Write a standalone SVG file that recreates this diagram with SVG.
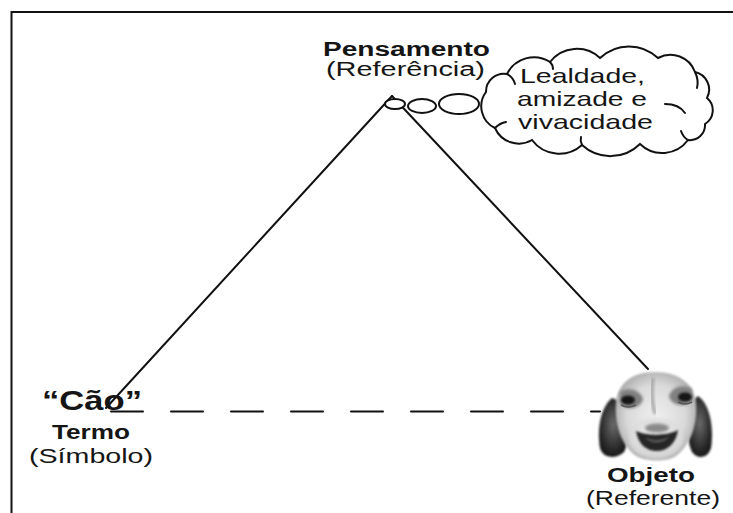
<svg xmlns="http://www.w3.org/2000/svg" width="733" height="513" viewBox="0 0 733 513">
  <style>
    .t { font-family: "Liberation Sans", Arial, sans-serif; fill: #151515; }
    .b { font-weight: bold; }
    .ln { stroke: #111; stroke-width: 2; fill: none; stroke-linecap: round; }
    .bub { stroke: #111; stroke-width: 2; fill: #fff; }
  </style>
  <defs>
    <radialGradient id="headG" cx="0.5" cy="0.5" r="0.55">
      <stop offset="0" stop-color="#efefef"/>
      <stop offset="0.65" stop-color="#dadada"/>
      <stop offset="1" stop-color="#ababab"/>
    </radialGradient>
    <radialGradient id="earG" cx="0.5" cy="0.45" r="0.6">
      <stop offset="0" stop-color="#6a6a6a"/>
      <stop offset="0.6" stop-color="#333"/>
      <stop offset="1" stop-color="#141414"/>
    </radialGradient>
    <radialGradient id="muzG" cx="0.5" cy="0.4" r="0.6">
      <stop offset="0" stop-color="#f4f4f4"/>
      <stop offset="1" stop-color="#d2d2d2"/>
    </radialGradient>
    <filter id="soft" x="-30%" y="-30%" width="160%" height="160%">
      <feGaussianBlur stdDeviation="1.6"/>
    </filter>
    <filter id="soft2" x="-20%" y="-20%" width="140%" height="140%">
      <feGaussianBlur stdDeviation="0.8"/>
    </filter>
  </defs>
  <rect width="733" height="513" fill="#fff"/>

  <g id="frame">
    <path class="ln" d="M11.5 513 V12 H733" stroke-linecap="butt"/>
  </g>

  <g id="connectors">
    <line class="ln" x1="392" y1="96" x2="106" y2="408"/>
    <line class="ln" x1="392" y1="96" x2="648" y2="369"/>
    <line class="ln" x1="111" y1="411.5" x2="600" y2="411.5" stroke-dasharray="32 28" stroke-linecap="butt"/>
  </g>

  <g id="node-pensamento">
    <text class="t b" x="323" y="56" font-size="20" textLength="167" lengthAdjust="spacingAndGlyphs">Pensamento</text>
    <text class="t" x="326" y="76" font-size="20" textLength="159" lengthAdjust="spacingAndGlyphs">(Referência)</text>
  </g>

  <g id="thought-bubbles">
    <ellipse class="bub" cx="395" cy="104" rx="10" ry="5" fill="none"/>
    <ellipse class="bub" cx="422" cy="106" rx="14" ry="7"/>
    <ellipse class="bub" cx="459" cy="104" rx="20" ry="10"/>
  </g>

  <g id="node-cloud">
    <path class="ln" fill="#fff" d="M486 92 A18 18 0 0 1 507 74 A30 30 0 0 1 550 62 A34 34 0 0 1 600 58 A42 42 0 0 1 658 58 A26 26 0 0 1 695 72 A18 18 0 0 1 707 98 A16 16 0 0 1 705 124 A15 15 0 0 1 688 140 A32 32 0 0 1 640 144 A42 42 0 0 1 582 145 A34 34 0 0 1 532 140 A26 26 0 0 1 495 128 A24 24 0 0 1 486 92 Z"/>
    <path class="ln" d="M507 74 Q513 77 515 84"/>
    <path class="ln" d="M550 62 Q553 65 553 69"/>
    <path class="ln" d="M695 72 Q699 80 697 88"/>
    <path class="ln" d="M665 104 Q679 104 685 113"/>
    <path class="ln" d="M688 140 Q683 137 681 131"/>
    <path class="ln" d="M582 145 Q580 141 581 137"/>
    <path class="ln" d="M495 128 Q500 123 506 122"/>
    <text class="t" x="520" y="83" font-size="21" textLength="125" lengthAdjust="spacingAndGlyphs">Lealdade,</text>
    <text class="t" x="517" y="106" font-size="21" textLength="130" lengthAdjust="spacingAndGlyphs">amizade e</text>
    <text class="t" x="518" y="129" font-size="21" textLength="135" lengthAdjust="spacingAndGlyphs">vivacidade</text>
  </g>

  <g id="node-termo">
    <text class="t b" x="42" y="410" font-size="27" textLength="100" lengthAdjust="spacingAndGlyphs">“Cão”</text>
    <text class="t b" x="52" y="439" font-size="21" textLength="78" lengthAdjust="spacingAndGlyphs">Termo</text>
    <text class="t" x="29" y="463" font-size="21" textLength="124" lengthAdjust="spacingAndGlyphs">(Símbolo)</text>
  </g>

  <g id="node-objeto">
    <g id="dog">
      <path d="M612 398 C600 408 597 430 600 448 C603 458 615 460 624 452 C630 440 628 418 622 402 Z" fill="url(#earG)" filter="url(#soft2)"/>
      <path d="M698 396 C710 404 714 428 711 448 C708 458 698 460 692 452 C686 440 687 418 691 402 Z" fill="url(#earG)" filter="url(#soft2)"/>
      <path d="M655 372 C680 372 694 385 696 402 C698 425 690 446 676 456 C668 462 646 462 636 456 C622 446 614 425 616 402 C618 385 630 372 655 372 Z" fill="url(#headG)" filter="url(#soft2)"/>
      <path d="M620 392 C627 387 640 389 643 399 C641 409 627 411 620 404 Z" fill="#808080" filter="url(#soft)"/>
      <path d="M692 389 C685 384 672 386 669 396 C671 406 685 408 692 401 Z" fill="#808080" filter="url(#soft)"/>
      <path d="M653 378 C651 390 652 403 655 414" stroke="#a0a0a0" stroke-width="3" fill="none" filter="url(#soft)"/>
      <ellipse cx="628" cy="400" rx="7" ry="4.5" fill="#151515" filter="url(#soft2)"/>
      <ellipse cx="685" cy="397" rx="7" ry="4.5" fill="#151515" filter="url(#soft2)"/>
      <path d="M621 405 Q628 409 636 405" stroke="#555" stroke-width="1.5" fill="none"/>
      <path d="M678 402 Q685 406 692 402" stroke="#555" stroke-width="1.5" fill="none"/>
      <ellipse cx="656" cy="438" rx="27" ry="20" fill="url(#muzG)" filter="url(#soft)"/>
      <ellipse cx="657" cy="428" rx="12" ry="4.5" fill="#8a8a8a" filter="url(#soft)"/>
      <path d="M636 431 C646 436 668 436 678 430 C676 444 667 451 657 451 C646 451 638 444 636 431 Z" fill="#262626" filter="url(#soft2)"/>
      <path d="M645 437 C652 441 663 441 669 436 C666 444 650 445 645 437 Z" fill="#5a5a5a" filter="url(#soft2)"/>
    </g>
    <text class="t b" x="607" y="482" font-size="20" textLength="88" lengthAdjust="spacingAndGlyphs">Objeto</text>
    <text class="t" x="586" y="505" font-size="20" textLength="134" lengthAdjust="spacingAndGlyphs">(Referente)</text>
  </g>
</svg>
